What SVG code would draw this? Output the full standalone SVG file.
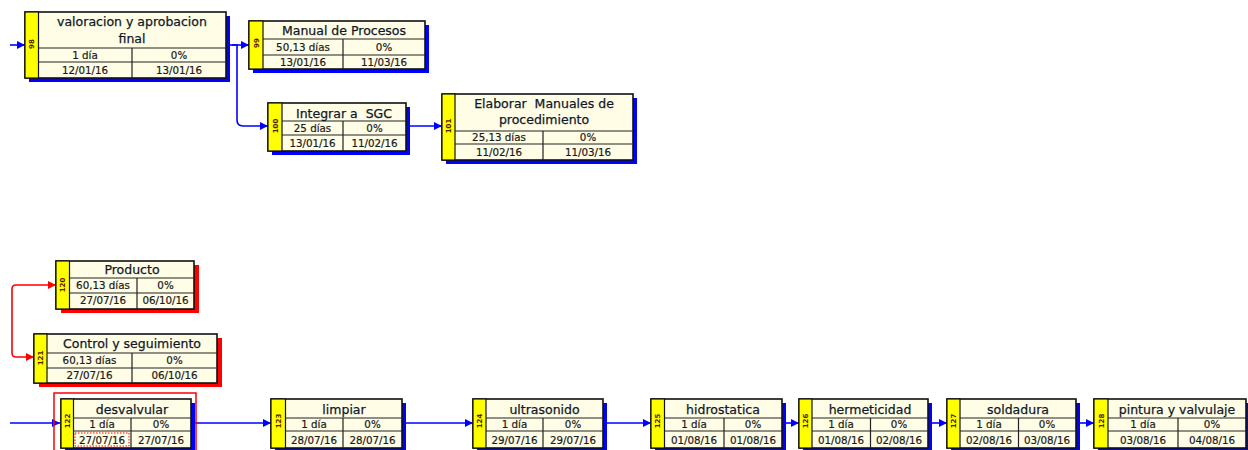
<svg xmlns="http://www.w3.org/2000/svg" width="1248" height="450" viewBox="0 0 1248 450">
<defs>
<marker id="ab" markerUnits="userSpaceOnUse" markerWidth="9" markerHeight="9" refX="8" refY="4.5" orient="auto"><path d="M0,0.5 L8,4.5 L0,8.5 z" fill="#0000FF"/></marker>
<marker id="ar" markerUnits="userSpaceOnUse" markerWidth="9" markerHeight="9" refX="8" refY="4.5" orient="auto"><path d="M0,0.5 L8,4.5 L0,8.5 z" fill="#FF0000"/></marker>
</defs>
<style>
.sb{fill:#0000FF}
.sr{fill:#FF0000}
.box{fill:#FFFDE6;stroke:#111;stroke-width:1.6}
.bar{fill:#FFFF00;stroke:#111;stroke-width:1.2}
.ln{stroke:#222;stroke-width:1.2;fill:none}
.t{font-family:"DejaVu Sans",Verdana,sans-serif;font-size:12.5px;fill:#101828;stroke:#101828;stroke-width:0.25;text-anchor:middle}
.d{font-family:"DejaVu Sans",Verdana,sans-serif;font-size:10.3px;fill:#1a1a1a;stroke:#1a1a1a;stroke-width:0.2;text-anchor:middle}
.id{font-family:"DejaVu Sans",sans-serif;font-size:7px;font-weight:bold;fill:#552200;text-anchor:middle}
.cb{stroke:#0000FF;stroke-width:1.6;fill:none}
.cr{stroke:#FF0000;stroke-width:1.6;fill:none}
</style>
<rect width="1248" height="450" fill="#FFFFFF"/>

<g id="connectors">
<path class="cb" d="M10,45 H25" marker-end="url(#ab)"/>
<path class="cb" d="M226,45 H249" marker-end="url(#ab)"/>
<path class="cb" d="M232,45 H237 V120 Q237,126 243,126 H268" marker-end="url(#ab)"/>
<path class="cb" d="M406,126 H442" marker-end="url(#ab)"/>
<path class="cr" d="M12,289 Q12,285 16,285 H56" marker-end="url(#ar)"/>
<path class="cr" d="M12,289 V353 Q12,357 16,357 H34" marker-end="url(#ar)"/>
<path class="cb" d="M10,423 H60" marker-end="url(#ab)"/>
<path class="cb" d="M195,423 H271" marker-end="url(#ab)"/>
<path class="cb" d="M406,423 H473" marker-end="url(#ab)"/>
<path class="cb" d="M607,423 H651" marker-end="url(#ab)"/>
<path class="cb" d="M786,423 H799" marker-end="url(#ab)"/>
<path class="cb" d="M932,423 H947" marker-end="url(#ab)"/>
<path class="cb" d="M1080,423 H1094" marker-end="url(#ab)"/>
<rect x="54" y="393" width="142" height="70" fill="none" stroke="#FF0000" stroke-width="1.5"/>
</g>

<g id="n98">
<rect class="sb" x="29" y="16" width="201" height="66"/>
<rect class="box" x="25" y="12" width="201" height="66"/>
<rect class="bar" x="25" y="12" width="13.5" height="66"/>
<path class="ln" d="M38.5,48 H226 M38.5,62 H226 M132,48 V78"/>
<text class="id" transform="translate(34,44) rotate(-90)">98</text>
<text class="t" x="132" y="26">valoracion y aprobacion</text>
<text class="t" x="132" y="43">final</text>
<text class="d" x="85" y="59">1 día</text>
<text class="d" x="179" y="59">0%</text>
<text class="d" x="85" y="74">12/01/16</text>
<text class="d" x="179" y="74">13/01/16</text>
</g>

<g id="n99">
<rect class="sb" x="253" y="25" width="176" height="48"/>
<rect class="box" x="249" y="21" width="176" height="48"/>
<rect class="bar" x="249" y="21" width="14" height="48"/>
<path class="ln" d="M263,39 H425 M263,55 H425 M343,39 V69"/>
<text class="id" transform="translate(258.5,43) rotate(-90)">99</text>
<text class="t" x="344" y="35">Manual de Procesos</text>
<text class="d" x="303" y="51">50,13 días</text>
<text class="d" x="384" y="51">0%</text>
<text class="d" x="303" y="66">13/01/16</text>
<text class="d" x="384" y="66">11/03/16</text>
</g>

<g id="n100">
<rect class="sb" x="272" y="107" width="138" height="48"/>
<rect class="box" x="268" y="103" width="138" height="48"/>
<rect class="bar" x="268" y="103" width="14" height="48"/>
<path class="ln" d="M282,121 H406 M282,135 H406 M343,121 V151"/>
<text class="id" transform="translate(277.5,126) rotate(-90)">100</text>
<text class="t" x="344" y="118" xml:space="preserve">Integrar a  SGC</text>
<text class="d" x="312.5" y="132">25 días</text>
<text class="d" x="374.5" y="132">0%</text>
<text class="d" x="312.5" y="147">13/01/16</text>
<text class="d" x="374.5" y="147">11/02/16</text>
</g>

<g id="n101">
<rect class="sb" x="446" y="98" width="191" height="66"/>
<rect class="box" x="442" y="94" width="191" height="66"/>
<rect class="bar" x="442" y="94" width="13" height="66"/>
<path class="ln" d="M455,131 H633 M455,144 H633 M543,131 V160"/>
<text class="id" transform="translate(451,126) rotate(-90)">101</text>
<text class="t" x="544" y="108" xml:space="preserve">Elaborar  Manuales de</text>
<text class="t" x="544" y="124">procedimiento</text>
<text class="d" x="499" y="141">25,13 días</text>
<text class="d" x="588" y="141">0%</text>
<text class="d" x="499" y="156">11/02/16</text>
<text class="d" x="588" y="156">11/03/16</text>
</g>

<g id="n120">
<rect class="sr" x="61" y="265" width="138" height="48"/>
<rect class="box" x="56" y="261" width="138" height="48"/>
<rect class="bar" x="56" y="261" width="13.5" height="48"/>
<path class="ln" d="M69.5,278 H194 M69.5,293 H194 M137,278 V309"/>
<text class="id" transform="translate(65,285) rotate(-90)">120</text>
<text class="t" x="132" y="274">Producto</text>
<text class="d" x="103" y="289">60,13 días</text>
<text class="d" x="165.5" y="289">0%</text>
<text class="d" x="103" y="304">27/07/16</text>
<text class="d" x="165.5" y="304">06/10/16</text>
</g>

<g id="n121">
<rect class="sr" x="39" y="338" width="183" height="49"/>
<rect class="box" x="34" y="334" width="183" height="49"/>
<rect class="bar" x="34" y="334" width="13" height="49"/>
<path class="ln" d="M47,353 H217 M47,368 H217 M132,353 V383"/>
<text class="id" transform="translate(43,358) rotate(-90)">121</text>
<text class="t" x="132" y="348">Control y seguimiento</text>
<text class="d" x="89.5" y="364">60,13 días</text>
<text class="d" x="174.5" y="364">0%</text>
<text class="d" x="89.5" y="379">27/07/16</text>
<text class="d" x="174.5" y="379">06/10/16</text>
</g>

<g id="n122">
<rect class="sb" x="65" y="403" width="130" height="49"/>
<rect class="box" x="61" y="399" width="130" height="49"/>
<rect class="bar" x="61" y="399" width="12.5" height="49"/>
<path class="ln" d="M73.5,418 H191 M73.5,431 H191 M131,418 V448"/>
<text class="id" transform="translate(69.5,421) rotate(-90)">122</text>
<text class="t" x="132" y="414">desvalvular</text>
<text class="d" x="102" y="428">1 día</text>
<text class="d" x="161" y="428">0%</text>
<rect x="75" y="433" width="54" height="13" fill="none" stroke="#FF0000" stroke-width="1" stroke-dasharray="1.5,1.5"/>
<text class="d" x="102" y="444">27/07/16</text>
<text class="d" x="161" y="444">27/07/16</text>
</g>

<g id="n123">
<rect class="sb" x="275" y="403" width="131" height="49"/>
<rect class="box" x="271" y="399" width="131" height="49"/>
<rect class="bar" x="271" y="399" width="14.5" height="49"/>
<path class="ln" d="M285.5,418 H402 M285.5,431 H402 M343,418 V448"/>
<text class="id" transform="translate(280.5,421) rotate(-90)">123</text>
<text class="t" x="344" y="414">limpiar</text>
<text class="d" x="314" y="428">1 día</text>
<text class="d" x="372.5" y="428">0%</text>
<text class="d" x="314" y="444">28/07/16</text>
<text class="d" x="372.5" y="444">28/07/16</text>
</g>

<g id="n124">
<rect class="sb" x="477" y="403" width="130" height="49"/>
<rect class="box" x="473" y="399" width="130" height="49"/>
<rect class="bar" x="473" y="399" width="13" height="49"/>
<path class="ln" d="M486,418 H603 M486,431 H603 M543,418 V448"/>
<text class="id" transform="translate(482,421) rotate(-90)">124</text>
<text class="t" x="544.5" y="414">ultrasonido</text>
<text class="d" x="514.5" y="428">1 día</text>
<text class="d" x="573" y="428">0%</text>
<text class="d" x="514.5" y="444">29/07/16</text>
<text class="d" x="573" y="444">29/07/16</text>
</g>

<g id="n125">
<rect class="sb" x="655" y="403" width="131" height="49"/>
<rect class="box" x="651" y="399" width="131" height="49"/>
<rect class="bar" x="651" y="399" width="13.5" height="49"/>
<path class="ln" d="M664.5,418 H782 M664.5,431 H782 M724,418 V448"/>
<text class="id" transform="translate(660,421) rotate(-90)">125</text>
<text class="t" x="723" y="414">hidrostatica</text>
<text class="d" x="694" y="428">1 día</text>
<text class="d" x="753" y="428">0%</text>
<text class="d" x="694" y="444">01/08/16</text>
<text class="d" x="753" y="444">01/08/16</text>
</g>

<g id="n126">
<rect class="sb" x="803" y="403" width="129" height="49"/>
<rect class="box" x="799" y="399" width="129" height="49"/>
<rect class="bar" x="799" y="399" width="13" height="49"/>
<path class="ln" d="M812,418 H928 M812,431 H928 M870.5,418 V448"/>
<text class="id" transform="translate(808,421) rotate(-90)">126</text>
<text class="t" x="870" y="414">hermeticidad</text>
<text class="d" x="841" y="428">1 día</text>
<text class="d" x="899" y="428">0%</text>
<text class="d" x="841" y="444">01/08/16</text>
<text class="d" x="899" y="444">02/08/16</text>
</g>

<g id="n127">
<rect class="sb" x="951" y="403" width="129" height="49"/>
<rect class="box" x="947" y="399" width="129" height="49"/>
<rect class="bar" x="947" y="399" width="13" height="49"/>
<path class="ln" d="M960,418 H1076 M960,431 H1076 M1018.5,418 V448"/>
<text class="id" transform="translate(956,421) rotate(-90)">127</text>
<text class="t" x="1018" y="414">soldadura</text>
<text class="d" x="989" y="428">1 día</text>
<text class="d" x="1047" y="428">0%</text>
<text class="d" x="989" y="444">02/08/16</text>
<text class="d" x="1047" y="444">03/08/16</text>
</g>

<g id="n128">
<rect class="sb" x="1098" y="403" width="152" height="49"/>
<rect class="box" x="1094" y="399" width="152" height="49"/>
<rect class="bar" x="1094" y="399" width="14" height="49"/>
<path class="ln" d="M1108,418 H1246 M1108,431 H1246 M1178,418 V448"/>
<text class="id" transform="translate(1103.5,421) rotate(-90)">128</text>
<text class="t" x="1177" y="414">pintura y valvulaje</text>
<text class="d" x="1143" y="428">1 día</text>
<text class="d" x="1212" y="428">0%</text>
<text class="d" x="1143" y="444">03/08/16</text>
<text class="d" x="1212" y="444">04/08/16</text>
</g>
</svg>
